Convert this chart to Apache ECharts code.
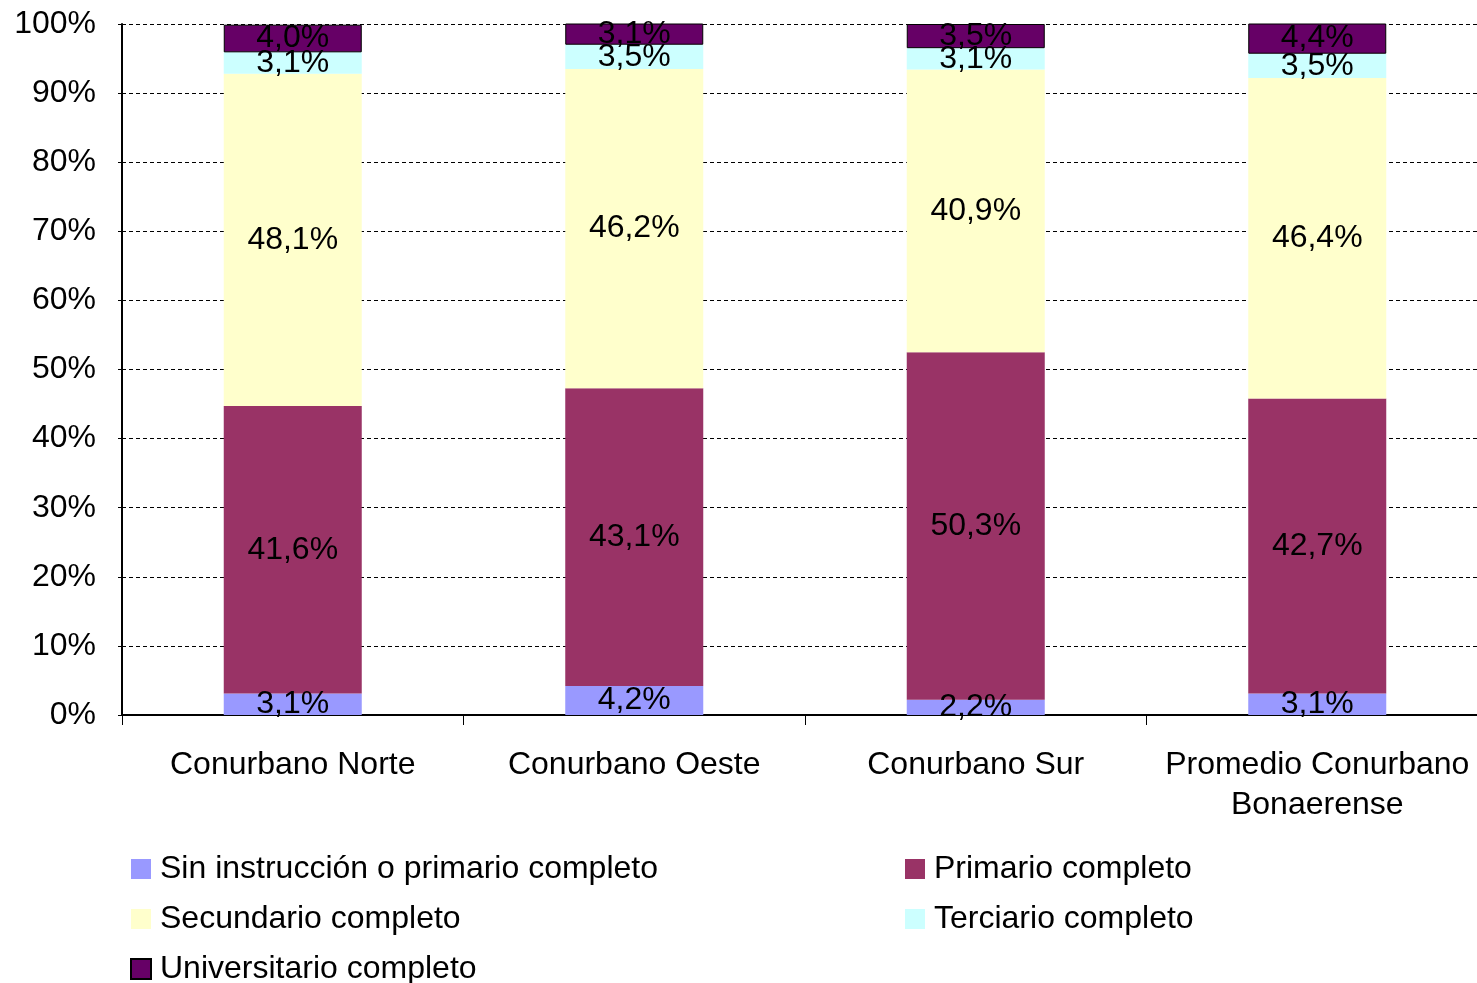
<!DOCTYPE html>
<html>
<head>
<meta charset="utf-8">
<script src="https://cdn.jsdelivr.net/npm/echarts@6/dist/echarts.min.js"></script>
<style>
html, body { margin: 0; padding: 0; background: #fff; }
#chart { width: 1477px; height: 983px; }
</style>
</head>
<body>
<div id="chart"></div>
<script>
var categories = ['Conurbano Norte', 'Conurbano Oeste', 'Conurbano Sur', 'Promedio Conurbano\nBonaerense'];
var sinInstruccion = [3.1, 4.2, 2.2, 3.1];
var primario = [41.6, 43.1, 50.3, 42.7];
var secundario = [48.1, 46.2, 40.9, 46.4];
var terciario = [3.1, 3.5, 3.1, 3.5];
var universitario = [4.0, 3.1, 3.5, 4.4];
var yTicks = [0, 10, 20, 30, 40, 50, 60, 70, 80, 90, 100];

var font = 'Liberation Sans, Arial, sans-serif';

function fmt(v) {
    return v.toFixed(1).replace('.', ',') + '%';
}

function makeSeries(name, data, color, border) {
    return {
        name: name,
        type: 'bar',
        stack: 'total',
        barWidth: 138,
        data: data,
        itemStyle: {
            color: color,
            borderColor: border ? '#000' : color,
            borderWidth: border ? 1 : 0
        },
        label: {
            show: true,
            position: 'inside',
            color: '#000',
            fontFamily: font,
            fontSize: 32,
            formatter: function (p) { return fmt(p.value); }
        }
    };
}

var legendText = { fontFamily: font, fontSize: 32, color: '#000', padding: [0, 0, 0, 4] };

var chart = echarts.init(document.getElementById('chart'));
chart.setOption({
    animation: false,
    grid: { left: 122, top: 24, width: 1366, height: 691, outerBoundsMode: 'none', containLabel: false },
    legend: [{
        left: 130, top: 853, height: 160, orient: 'vertical', itemGap: 18,
        itemWidth: 20, itemHeight: 20, padding: 0, icon: 'rect',
        textStyle: legendText,
        data: ['Sin instrucción o primario completo', 'Secundario completo', 'Universitario completo']
    }, {
        left: 905, top: 853, height: 160, orient: 'vertical', itemGap: 18,
        itemWidth: 20, itemHeight: 20, padding: 0, icon: 'rect',
        textStyle: legendText,
        data: ['Primario completo', 'Terciario completo']
    }],
    xAxis: {
        type: 'category',
        data: categories,
        axisLine: { lineStyle: { color: '#000', width: 2 } },
        axisTick: { show: true, interval: 0, length: 10, lineStyle: { color: '#000' } },
        axisLabel: {
            fontFamily: font, fontSize: 32, color: '#000', margin: 30, lineHeight: 40, interval: 0
        }
    },
    yAxis: {
        type: 'value',
        min: yTicks[0],
        max: yTicks[yTicks.length - 1],
        interval: 10,
        axisLine: { show: true, lineStyle: { color: '#000', width: 2 } },
        axisTick: { show: true, length: 4, lineStyle: { color: '#000' } },
        splitLine: { lineStyle: { color: '#000', type: [4, 3], width: 1 } },
        axisLabel: {
            fontFamily: font, fontSize: 32, color: '#000', margin: 26,
            formatter: function (v) { return v + '%'; }
        }
    },
    series: [
        makeSeries('Sin instrucción o primario completo', sinInstruccion, '#9999ff', false),
        makeSeries('Primario completo', primario, '#993366', false),
        makeSeries('Secundario completo', secundario, '#ffffcc', false),
        makeSeries('Terciario completo', terciario, '#ccffff', false),
        makeSeries('Universitario completo', universitario, '#660066', true)
    ]
});
</script>
</body>
</html>
